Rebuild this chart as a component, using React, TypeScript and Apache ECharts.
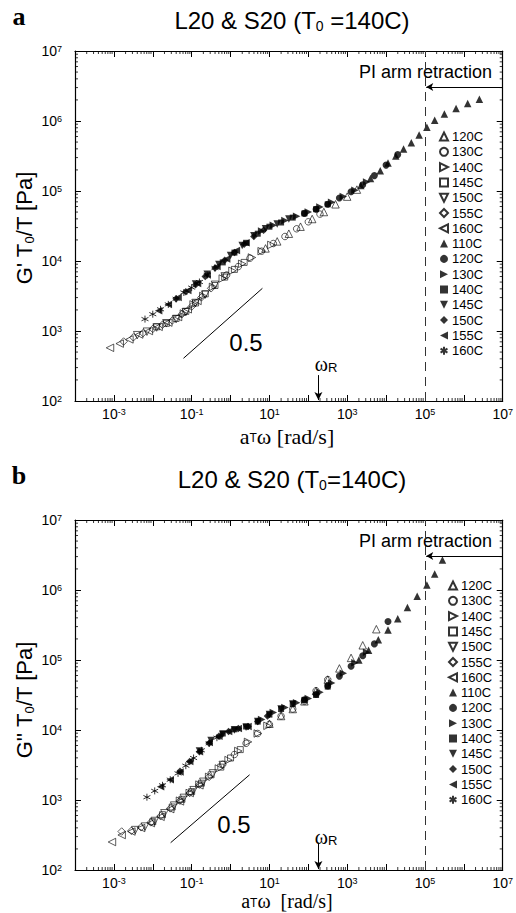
import React, { useEffect, useRef } from "react";
import * as echarts from "echarts";

// ---------- DATA (log10 a_T·ω [rad/s], log10 modulus·T0/T [Pa]) ----------
const openTemps = ["120C", "130C", "140C", "145C", "150C", "155C", "160C"];
const filledTemps = ["110C", "120C", "130C", "140C", "145C", "150C", "155C", "160C"];

// Panel a : G'  — open symbols
const gpO120 = [[0.9, 4.18], [1.2, 4.28], [1.5, 4.39], [1.8, 4.49], [2.1, 4.6], [2.4, 4.7], [2.7, 4.81], [3.0, 4.92], [3.25, 5.02]];
const gpO130 = [[-0.1, 3.8], [0.2, 3.92], [0.5, 4.04], [0.8, 4.14], [1.1, 4.25], [1.4, 4.35], [1.7, 4.46], [2.0, 4.56], [2.3, 4.67]];
const gpO140 = [[-1.2, 3.25], [-0.95, 3.38], [-0.7, 3.5], [-0.45, 3.63], [-0.2, 3.75], [0.05, 3.86], [0.3, 3.96], [0.55, 4.05], [0.8, 4.14], [1.05, 4.23]];
const gpO145 = [[-1.9, 3.06], [-1.65, 3.11], [-1.4, 3.18], [-1.15, 3.28], [-0.9, 3.4], [-0.65, 3.53], [-0.4, 3.65], [-0.15, 3.77], [0.1, 3.88], [0.35, 3.98]];
const gpO150 = [[-2.4, 2.94], [-2.15, 2.99], [-1.9, 3.05], [-1.65, 3.11], [-1.4, 3.17], [-1.15, 3.27], [-0.9, 3.4], [-0.65, 3.52], [-0.4, 3.66], [-0.15, 3.78]];
const gpO155 = [[-2.75, 2.85], [-2.5, 2.91], [-2.25, 2.97], [-2.0, 3.03], [-1.75, 3.09], [-1.5, 3.15], [-1.25, 3.24], [-1.0, 3.35], [-0.75, 3.48], [-0.5, 3.61]];
const gpO160 = [[-3.1, 2.76], [-2.85, 2.82], [-2.6, 2.88], [-2.35, 2.95], [-2.1, 3.0], [-1.85, 3.06], [-1.6, 3.12], [-1.35, 3.2], [-1.1, 3.31], [-0.85, 3.43]];
// Panel a : G'  — filled symbols
const gpF110 = [[3.35, 5.08], [3.6, 5.18], [3.85, 5.29], [4.05, 5.4], [4.25, 5.5], [4.45, 5.6], [4.65, 5.69], [4.85, 5.8], [5.05, 5.91], [5.25, 6.01], [5.5, 6.1], [5.8, 6.18], [6.1, 6.25], [6.4, 6.31]];
const gpF120 = [[1.9, 4.68], [2.2, 4.74], [2.5, 4.81], [2.8, 4.9], [3.1, 4.99], [3.4, 5.09], [3.7, 5.22], [4.0, 5.37], [4.3, 5.52]];
const gpF130 = [[0.8, 4.43], [1.1, 4.51], [1.4, 4.58], [1.7, 4.64], [2.0, 4.7], [2.3, 4.77], [2.6, 4.84], [2.9, 4.92], [3.2, 5.01], [3.5, 5.13]];
const gpF140 = [[-0.2, 3.98], [0.1, 4.12], [0.4, 4.26], [0.7, 4.39], [1.0, 4.49], [1.3, 4.55], [1.6, 4.62], [1.9, 4.68], [2.2, 4.74], [2.5, 4.81]];
const gpF145 = [[-0.9, 3.67], [-0.6, 3.81], [-0.3, 3.95], [0.0, 4.08], [0.3, 4.22], [0.6, 4.36], [0.9, 4.46], [1.2, 4.53], [1.5, 4.6]];
const gpF150 = [[-1.4, 3.46], [-1.15, 3.56], [-0.9, 3.66], [-0.65, 3.78], [-0.4, 3.9], [-0.15, 4.01], [0.1, 4.12], [0.35, 4.24], [0.6, 4.35], [0.85, 4.44]];
const gpF155 = [[-1.85, 3.29], [-1.6, 3.38], [-1.35, 3.48], [-1.1, 3.58], [-0.85, 3.68], [-0.6, 3.8], [-0.35, 3.92], [-0.1, 4.03], [0.15, 4.15], [0.4, 4.26]];
const gpF160 = [[-2.2, 3.17], [-2.0, 3.24], [-1.8, 3.31], [-1.6, 3.38], [-1.4, 3.46], [-1.2, 3.55], [-1.0, 3.62], [-0.8, 3.7], [-0.6, 3.8], [-0.4, 3.9]];

// Panel b : G'' — open symbols
const gppO120 = [[1.0, 4.09], [1.3, 4.2], [1.6, 4.3], [1.9, 4.41], [2.2, 4.56], [2.5, 4.72], [2.8, 4.88], [3.1, 5.03], [3.4, 5.21], [3.75, 5.44]];
const gppO130 = [[-0.2, 3.51], [0.1, 3.65], [0.4, 3.81], [0.7, 3.95], [1.0, 4.08], [1.3, 4.2], [1.6, 4.3], [1.9, 4.41], [2.2, 4.56], [2.5, 4.72]];
const gppO140 = [[-1.3, 2.99], [-1.05, 3.1], [-0.8, 3.22], [-0.55, 3.33], [-0.3, 3.45], [-0.05, 3.57], [0.2, 3.7], [0.45, 3.83], [0.7, 3.95], [0.95, 4.06]];
const gppO145 = [[-2.0, 2.69], [-1.75, 2.79], [-1.5, 2.9], [-1.25, 3.01], [-1.0, 3.12], [-0.75, 3.24], [-0.5, 3.36], [-0.25, 3.47], [0.0, 3.6], [0.25, 3.72]];
const gppO150 = [[-2.45, 2.57], [-2.2, 2.62], [-1.95, 2.7], [-1.7, 2.81], [-1.45, 2.92], [-1.2, 3.03], [-0.95, 3.14], [-0.7, 3.26], [-0.45, 3.38], [-0.2, 3.5]];
const gppO155 = [[-2.8, 2.55], [-2.55, 2.56], [-2.3, 2.61], [-2.05, 2.68], [-1.8, 2.77], [-1.55, 2.88], [-1.3, 2.99], [-1.05, 3.1], [-0.8, 3.22], [-0.55, 3.33]];
const gppO160 = [[-3.05, 2.4], [-2.8, 2.5], [-2.55, 2.55], [-2.3, 2.6], [-2.05, 2.67], [-1.8, 2.76], [-1.55, 2.87], [-1.3, 2.98], [-1.05, 3.1], [-0.8, 3.21]];
// Panel b : G'' — filled symbols
const gppF110 = [[3.3, 5.0], [3.55, 5.14], [3.8, 5.29], [4.05, 5.43], [4.3, 5.59], [4.55, 5.75], [4.8, 5.91], [5.05, 6.07], [5.25, 6.23], [5.45, 6.43]];
const gppF120 = [[1.9, 4.43], [2.2, 4.51], [2.5, 4.63], [2.8, 4.77], [3.1, 4.91], [3.4, 5.06], [3.7, 5.23], [4.05, 5.55]];
const gppF130 = [[0.8, 4.15], [1.1, 4.25], [1.4, 4.32], [1.7, 4.39], [2.0, 4.45], [2.3, 4.54], [2.6, 4.67], [2.9, 4.81], [3.2, 4.96], [3.5, 5.11]];
const gppF140 = [[-0.2, 3.95], [0.1, 4.01], [0.4, 4.05], [0.7, 4.12], [1.0, 4.22], [1.3, 4.3], [1.6, 4.37], [1.9, 4.43], [2.2, 4.5], [2.5, 4.62]];
const gppF145 = [[-0.8, 3.7], [-0.5, 3.85], [-0.2, 3.94], [0.1, 4.0], [0.4, 4.04], [0.7, 4.12], [1.0, 4.22], [1.3, 4.3], [1.6, 4.37]];
const gppF150 = [[-1.3, 3.41], [-1.05, 3.55], [-0.8, 3.69], [-0.55, 3.81], [-0.3, 3.91], [-0.05, 3.98], [0.2, 4.02], [0.45, 4.05], [0.7, 4.12], [0.95, 4.2]];
const gppF155 = [[-1.8, 3.19], [-1.55, 3.29], [-1.3, 3.4], [-1.05, 3.55], [-0.8, 3.69], [-0.55, 3.82], [-0.3, 3.91], [-0.05, 3.98], [0.2, 4.02], [0.45, 4.05]];
const gppF160 = [[-2.15, 3.04], [-1.95, 3.13], [-1.75, 3.21], [-1.55, 3.29], [-1.35, 3.38], [-1.15, 3.49], [-0.95, 3.6], [-0.75, 3.71], [-0.55, 3.81], [-0.35, 3.89]];

// annotations (log10 coordinates)
const slopeA = [[-1.21, 2.61], [0.82, 3.61]];
const slopeB = [[-1.54, 2.39], [0.49, 3.36]];
const armRetraction = 5; // log10 a_T·ω of dashed line
const omegaR = 2.26; // log10 a_T·ω of ω_R arrow
const xTicks = { min: -4, max: 7 };
const yTicks = { min: 2, max: 7 };
const minorMultipliers = [2, 3, 4, 5, 6, 7, 8, 9];

// ---------- styling ----------
const SANS = "Liberation Sans, Arial, Helvetica, sans-serif";
const SERIF = "Liberation Serif, Times New Roman, serif";
const RIGHT = "path://M0,0L10,5L0,10Z";
const DOWN = "path://M0,0L10,0L5,10Z";
const LEFT = "path://M10,0L10,10L0,5Z";
const STAR = "path://M5,0L5,10M0.67,2.5L9.33,7.5M0.67,7.5L9.33,2.5";
const openSymbols = ["triangle", "circle", RIGHT, "rect", DOWN, "diamond", LEFT];
const openSizes = [7.5, 6.5, 7.5, 6, 7.5, 7.5, 7.5];
const filledSymbols = ["triangle", "circle", RIGHT, "rect", DOWN, "diamond", LEFT, STAR];
const filledSizes = [7.5, 7, 7.5, 6, 7.5, 7.5, 7.5, 7];

const pw = (arr: number[][]) => arr.map(([x, y]) => [Math.pow(10, x), Math.pow(10, y)]);
const p10 = (v: number) => Math.pow(10, v);

function minorValues(ext: { min: number; max: number }) {
  const out: number[] = [];
  for (let d = ext.min; d < ext.max; d++) minorMultipliers.forEach((m) => out.push(m * p10(d)));
  return out;
}

type Panel = {
  letter: string;
  titleText: string;
  yTitle: string;
  xTitle: string;
  gridTop: number;
  titleY: number;
  open: number[][][];
  filled: number[][][];
  slope: number[][];
  legendLeft: number;
  legendTop: number;
  halfX: number;
  halfY: number;
  omegaY: number;
  omegaTop: number;
  xTitleY: number;
  xTitleSize: number;
  yTitleY: number;
};

const panels: Panel[] = [
  {
    letter: "a",
    titleText: "{m|L20 & S20 (T}{s|0}{m| =140C)}",
    yTitle: "{m|G' T}{s|0}{m|/T [Pa]}",
    xTitle: "{m|a}{s|T}{m|ω [rad/s]}",
    gridTop: 51,
    titleY: 20,
    open: [gpO120, gpO130, gpO140, gpO145, gpO150, gpO155, gpO160],
    filled: [gpF110, gpF120, gpF130, gpF140, gpF145, gpF150, gpF155, gpF160],
    slope: slopeA,
    legendLeft: 439,
    legendTop: 130,
    halfX: 246,
    halfY: 342,
    omegaY: 364,
    omegaTop: 2.37,
    xTitleY: 436,
    xTitleSize: 22,
    yTitleY: 228,
  },
  {
    letter: "b",
    titleText: "{m|L20 & S20 (T}{s|0}{m|=140C)}",
    yTitle: "{m|G'' T}{s|0}{m|/T [Pa]}",
    xTitle: "{m|a}{s|T}{m|ω  [rad/s]}",
    gridTop: 64,
    titleY: 23,
    open: [gppO120, gppO130, gppO140, gppO145, gppO150, gppO155, gppO160],
    filled: [gppF110, gppF120, gppF130, gppF140, gppF145, gppF150, gppF155, gppF160],
    slope: slopeB,
    legendLeft: 448,
    legendTop: 123,
    halfX: 234,
    halfY: 368,
    omegaY: 381,
    omegaTop: 2.39,
    xTitleY: 445,
    xTitleSize: 20,
    yTitleY: 244,
  },
];

const GRID = { left: 75, width: 434, height: 350 };

function expLabel(v: number) {
  const e = Math.round(Math.log10(v));
  return `{b|10}{e|${e}}`;
}

const labelRich = {
  b: { fontSize: 14, fontFamily: SANS, color: "#000", lineHeight: 13 },
  e: { fontSize: 9, fontFamily: SANS, color: "#000", lineHeight: 9, verticalAlign: "top" as const },
};

function axisCommon(isX: boolean) {
  const ext = isX ? xTicks : yTicks;
  return {
    type: "log" as const,
    logBase: 10,
    min: p10(ext.min),
    max: p10(ext.max),
    interval: 1,
    gridIndex: 0,
    axisLine: { show: true, onZero: false, lineStyle: { color: "#000", width: 1.2 } },
    axisTick: { show: true, inside: true, length: 6, lineStyle: { color: "#000", width: 1 } },
    minorTick: { show: false },
    splitLine: { show: false },
    minorSplitLine: { show: false },
  };
}

function buildOption(p: Panel) {
  const series: any[] = [];
  p.open.forEach((arr, i) => {
    series.push({
      type: "scatter",
      name: openTemps[i],
      data: pw(arr),
      symbol: openSymbols[i],
      symbolSize: openSizes[i],
      itemStyle: { color: "rgba(255,255,255,0)", borderColor: "#000", borderWidth: 0.8 },
      z: 3,
    });
  });
  p.filled.forEach((arr, i) => {
    const isStar = filledSymbols[i] === STAR;
    series.push({
      type: "scatter",
      name: filledTemps[i] + " ",
      data: pw(arr),
      symbol: filledSymbols[i],
      symbolSize: filledSizes[i],
      itemStyle: isStar
        ? { color: "rgba(0,0,0,0)", borderColor: "#000", borderWidth: 1 }
        : { color: "#000", borderColor: "#000", borderWidth: 0 },
      z: 4,
    });
  });
  const arrowY = p10(7 - 36 / 70);
  series.push({
    type: "line",
    data: [],
    silent: true,
    markLine: {
      silent: true,
      animation: false,
      label: { show: false },
      symbol: ["none", "none"],
      data: [
        [
          { coord: [p10(armRetraction), p10(yTicks.min)], lineStyle: { type: [9, 6], color: "#333", width: 1 } },
          { coord: [p10(armRetraction), p10(yTicks.max)] },
        ],
        [
          { coord: [p10(xTicks.max), arrowY], symbol: "none", lineStyle: { type: "solid", color: "#000", width: 1 } },
          { coord: [p10(armRetraction) * 1.08, arrowY], symbol: "arrow", symbolSize: [6, 7] },
        ],
        [
          { coord: [p10(p.slope[0][0]), p10(p.slope[0][1])], lineStyle: { type: "solid", color: "#000", width: 1 } },
          { coord: [p10(p.slope[1][0]), p10(p.slope[1][1])] },
        ],
        [
          { coord: [p10(omegaR), p10(p.omegaTop)], symbol: "none", lineStyle: { type: "solid", color: "#000", width: 1 } },
          { coord: [p10(omegaR), p10(yTicks.min) * 1.03], symbol: "arrow", symbolSize: [6, 8] },
        ],
      ],
    },
  });
  // log-spaced minor ticks on all four sides
  const yMin = p10(yTicks.min), yMax = p10(yTicks.max), xMin = p10(xTicks.min), xMax = p10(xTicks.max);
  series.push({
    type: "custom",
    silent: true,
    z: 1,
    data: minorValues(xTicks).map((v) => [v, yMin]),
    renderItem: (_: any, api: any) => {
      const v = api.value(0);
      const b = api.coord([v, yMin]);
      const t = api.coord([v, yMax]);
      return {
        type: "group",
        children: [
          { type: "line", shape: { x1: b[0], y1: b[1], x2: b[0], y2: b[1] - 3 }, style: { stroke: "#000", lineWidth: 0.8 } },
          { type: "line", shape: { x1: t[0], y1: t[1], x2: t[0], y2: t[1] + 3 }, style: { stroke: "#000", lineWidth: 0.8 } },
        ],
      };
    },
  });
  series.push({
    type: "custom",
    silent: true,
    z: 1,
    data: minorValues(yTicks).map((v) => [xMin, v]),
    renderItem: (_: any, api: any) => {
      const v = api.value(1);
      const l = api.coord([xMin, v]);
      const r = api.coord([xMax, v]);
      return {
        type: "group",
        children: [
          { type: "line", shape: { x1: l[0], y1: l[1], x2: l[0] + 3, y2: l[1] }, style: { stroke: "#000", lineWidth: 0.8 } },
          { type: "line", shape: { x1: r[0], y1: r[1], x2: r[0] - 3, y2: r[1] }, style: { stroke: "#000", lineWidth: 0.8 } },
        ],
      };
    },
  });

  const graphic: any[] = [
    {
      type: "text",
      x: 19,
      y: p.titleY - 4,
      style: { text: p.letter, font: `bold 26px ${SERIF}`, fill: "#000", align: "center", verticalAlign: "middle" },
    },
    {
      type: "text",
      x: 292,
      y: p.titleY,
      style: {
        text: p.titleText,
        align: "center",
        verticalAlign: "middle",
        rich: {
          m: { fontSize: 24, fontFamily: SANS, fill: "#000", lineHeight: 26 },
          s: { fontSize: 14, fontFamily: SANS, fill: "#000", lineHeight: 14, verticalAlign: "bottom" },
        },
      },
    },
    {
      type: "text",
      x: 24,
      y: p.yTitleY,
      rotation: Math.PI / 2,
      style: {
        text: p.yTitle,
        align: "center",
        verticalAlign: "middle",
        rich: {
          m: { fontSize: 22, fontFamily: SANS, fill: "#000", lineHeight: 24 },
          s: { fontSize: 13, fontFamily: SANS, fill: "#000", lineHeight: 13, verticalAlign: "bottom" },
        },
      },
    },
    {
      type: "text",
      x: 287,
      y: p.xTitleY,
      style: {
        text: p.xTitle,
        align: "center",
        verticalAlign: "middle",
        rich: {
          m: { fontSize: p.xTitleSize, fontFamily: SERIF, fill: "#000", lineHeight: 16 },
          s: { fontSize: 12, fontFamily: SANS, fill: "#000", lineHeight: 8, verticalAlign: "bottom" },
        },
      },
    },
    {
      type: "text",
      x: 492,
      y: p.gridTop + 21,
      style: { text: "PI arm retraction", font: `18px ${SANS}`, fill: "#000", align: "right", verticalAlign: "middle" },
    },
    {
      type: "text",
      x: p.halfX,
      y: p.halfY,
      style: { text: "0.5", font: `24px ${SANS}`, fill: "#000", align: "center", verticalAlign: "middle" },
    },
    {
      type: "text",
      x: 326,
      y: p.omegaY,
      style: {
        text: "{w|ω}{r|R}",
        align: "center",
        verticalAlign: "middle",
        rich: {
          w: { fontSize: 20, fontFamily: SERIF, fill: "#000", lineHeight: 20 },
          r: { fontSize: 13, fontFamily: SANS, fill: "#000", lineHeight: 13, verticalAlign: "bottom" },
        },
      },
    },
  ];

  return {
    animation: false,
    backgroundColor: "#fff",
    grid: [{ ...GRID, top: p.gridTop, containLabel: false }],
    legend: {
      orient: "vertical",
      left: p.legendLeft,
      top: p.legendTop,
      itemWidth: 8,
      itemHeight: 8,
      itemGap: 2.3,
      selectedMode: false,
      padding: 0,
      textStyle: { fontSize: 13, fontFamily: SANS, color: "#000", lineHeight: 13, padding: [0, 0, 0, -1] },
      formatter: (n: string) => n.trim(),
      data: [...openTemps, ...filledTemps.map((t) => t + " ")],
    },
    xAxis: [
      {
        ...axisCommon(true),
        position: "bottom",
        axisLabel: {
          show: true,
          margin: 6,
          formatter: (v: number) => {
            const e = Math.round(Math.log10(v));
            return Math.abs(e) % 2 === 1 ? expLabel(v) : "";
          },
          rich: labelRich,
        },
      },
      { ...axisCommon(true), position: "top", axisLabel: { show: false } },
    ],
    yAxis: [
      {
        ...axisCommon(false),
        position: "left",
        axisLabel: { show: true, margin: 13, formatter: (v: number) => expLabel(v), rich: labelRich },
      },
      { ...axisCommon(false), position: "right", axisLabel: { show: false } },
    ],
    series,
    graphic,
  };
}

function PanelChart({ panel, top, height }: { panel: Panel; top: number; height: number }) {
  const ref = useRef<HTMLDivElement>(null);
  useEffect(() => {
    if (!ref.current) return;
    const chart = echarts.init(ref.current, undefined, { renderer: "svg" });
    chart.setOption(buildOption(panel) as any);
    return () => chart.dispose();
  }, [panel]);
  return <div ref={ref} style={{ position: "absolute", left: 0, top, width: 516, height }} />;
}

export default function App() {
  return (
    <div style={{ position: "fixed", left: 0, top: 0, width: 516, height: 913, background: "#fff" }}>
      <PanelChart panel={panels[0]} top={0} height={456} />
      <PanelChart panel={panels[1]} top={456} height={457} />
    </div>
  );
}
